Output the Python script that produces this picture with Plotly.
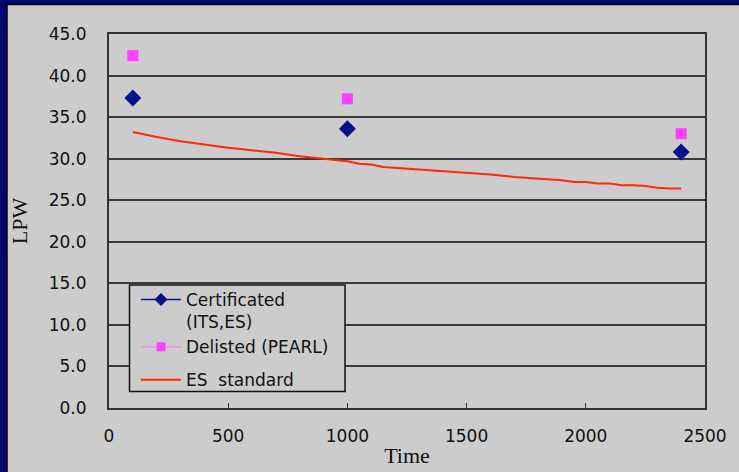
import plotly.graph_objects as go

# Data
time_points = [100, 1000, 2400]
certificated = [37.3, 33.6, 30.8]
delisted = [42.4, 37.2, 33.0]

es_time = [100, 200, 300, 400, 460, 500, 600, 700, 800, 900, 1000, 1050, 1100, 1150,
           1200, 1250, 1300, 1400, 1500, 1600, 1700, 1800, 1900, 1950, 2000, 2050,
           2100, 2150, 2200, 2250, 2300, 2350, 2400]
es_standard = [33.2, 32.6, 32.1, 31.7, 31.5, 31.3, 31.0, 30.7, 30.3, 30.0, 29.7, 29.4, 29.3, 29.0,
               28.9, 28.8, 28.7, 28.5, 28.3, 28.1, 27.8, 27.6, 27.4, 27.2, 27.2, 27.0,
               27.0, 26.8, 26.8, 26.7, 26.5, 26.4, 26.4]

x_ticks = [0, 500, 1000, 1500, 2000, 2500]
y_ticks = [0, 5, 10, 15, 20, 25, 30, 35, 40, 45]

W, H = 739, 472
L, R, T, B = 109, 705, 34, 408
pw, ph = R - L, B - T

def px_x(p):
    return (p - L) / pw

def px_y(p):
    return (B - p) / ph

NAVY = "#00128c"
PINK = "#ff40ff"
RED = "#ff2a00"

fig = go.Figure()
fig.add_trace(go.Scatter(
    x=time_points, y=certificated, mode="markers", showlegend=False,
    marker=dict(symbol="diamond", size=13, color=NAVY),
))
fig.add_trace(go.Scatter(
    x=time_points, y=delisted, mode="markers", showlegend=False,
    marker=dict(symbol="square", size=11, color=PINK),
))
fig.add_trace(go.Scatter(
    x=es_time, y=es_standard, mode="lines", showlegend=False,
    line=dict(color=RED, width=2),
))

# legend entries
fig.add_trace(go.Scatter(x=[None], y=[None], mode="lines+markers", name="Certificated<br>(ITS,ES)",
                         legendgroup="a",
                         marker=dict(symbol="diamond", size=10, color=NAVY),
                         line=dict(color=NAVY, width=1.5)))
fig.add_trace(go.Scatter(x=[None], y=[None], mode="lines+markers", name="Delisted (PEARL)",
                         legendgroup="a",
                         marker=dict(symbol="square", size=9, color=PINK),
                         line=dict(color="#ff80ff", width=1.5)))
fig.add_trace(go.Scatter(x=[None], y=[None], mode="lines", name="ES  standard",
                         legendgroup="b",
                         line=dict(color=RED, width=2)))

shapes = [
    # gray slide panel
    dict(type="rect", xref="paper", yref="paper", layer="below",
         x0=px_x(7), x1=px_x(745), y0=px_y(478), y1=px_y(4.5),
         fillcolor="#cccccc", line=dict(color="#000000", width=1.5)),
    # legend box
    dict(type="rect", xref="paper", yref="paper", layer="above",
         x0=px_x(129.5), x1=px_x(345), y0=px_y(391.5), y1=px_y(285),
         fillcolor="#cccccc", line=dict(color="#111111", width=1.5)),
]

fig.update_layout(
    width=W, height=H,
    margin=dict(l=L, r=W - R, t=T, b=H - B, pad=0, autoexpand=False),
    paper_bgcolor="#000a6e",
    plot_bgcolor="#cccccc",
    shapes=shapes,
    showlegend=True,
    legend=dict(
        x=px_x(136), y=px_y(282), xanchor="left", yanchor="top",
        bgcolor="rgba(0,0,0,0)", borderwidth=0,
        font=dict(family="DejaVu Sans", size=17, color="#111111"),
        valign="top", tracegroupgap=8, itemwidth=40,
    ),
    xaxis=dict(
        range=[0, 2500], tickvals=x_ticks, ticktext=[str(v) for v in x_ticks],
        showgrid=False, zeroline=False, automargin=False,
        showline=True, linecolor="#333333", linewidth=2, mirror=True,
        ticks="inside", ticklen=5, tickcolor="#333333",
        ticklabelstandoff=12,
        tickfont=dict(family="DejaVu Sans", size=17, color="#111111"),
        title=dict(text="Time", font=dict(family="Liberation Serif", size=22, color="#111111"), standoff=2),
    ),
    yaxis=dict(
        range=[0, 45], tickvals=y_ticks, ticktext=[f"{v:.1f}" for v in y_ticks],
        showgrid=True, gridcolor="#3a3a3a", gridwidth=1.5, zeroline=False, automargin=False,
        showline=True, linecolor="#333333", linewidth=2, mirror=True,
        ticks="", ticklabelstandoff=17,
        tickfont=dict(family="DejaVu Sans", size=17, color="#111111"),
        title=dict(text="LPW", font=dict(family="Liberation Serif", size=22, color="#111111"), standoff=15),
    ),
)

fig.write_html("out.html")
